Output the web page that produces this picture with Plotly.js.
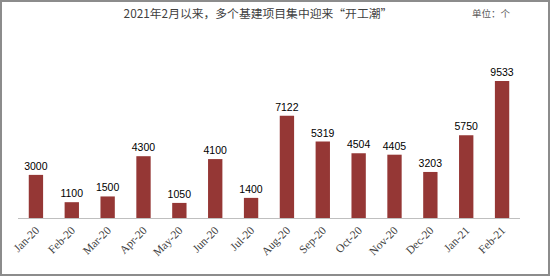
<!DOCTYPE html>
<html>
<head>
<meta charset="utf-8">
<script src="https://cdn.plot.ly/plotly-3.0.1.min.js"></script>
<style>
html,body{margin:0;padding:0;background:#fff;}
#wrap{position:relative;width:550px;height:276px;}
#chart{position:absolute;left:0;top:0;width:550px;height:276px;}
#frame{position:absolute;left:0;top:0;width:550px;height:276px;box-sizing:border-box;border:2px solid #8c8c8c;pointer-events:none;}
</style>
</head>
<body>
<div id="wrap"><div id="chart"></div><div id="frame"></div></div>
<script>
const months = ["Jan-20","Feb-20","Mar-20","Apr-20","May-20","Jun-20","Jul-20","Aug-20","Sep-20","Oct-20","Nov-20","Dec-20","Jan-21","Feb-21"];
const projects = [3000,1100,1500,4300,1050,4100,1400,7122,5319,4504,4405,3203,5750,9533];
const titleText = "2021年2月以来，多个基建项目集中迎来“开工潮”";
const unitText = "单位：个";

const trace = {
  type: "bar",
  x: months,
  y: projects,
  width: 0.4,
  marker: {color: "#953735"},
  text: projects.map(String),
  textposition: "outside",
  constraintext: "none",
  cliponaxis: false,
  textfont: {family: "Liberation Sans, Arial, sans-serif", size: 10.5, color: "#000"},
  hoverinfo: "none"
};

const layout = {
  width: 550,
  height: 276,
  margin: {l: 18, r: 30, t: 30, b: 58},
  paper_bgcolor: "#fff",
  plot_bgcolor: "#fff",
  showlegend: false,
  title: {
    text: titleText,
    x: 0.469, xanchor: "center",
    y: 0.95, yanchor: "middle",
    font: {family: "Noto Sans CJK SC, sans-serif", size: 11.8, color: "#404040"}
  },
  xaxis: {
    type: "category",
    tickangle: -45,
    showline: true,
    linecolor: "#bfbfbf",
    linewidth: 1,
    ticks: "",
    showgrid: false,
    tickfont: {family: "Liberation Serif, Times New Roman, serif", size: 11.5, color: "#404040"},
    automargin: false
  },
  yaxis: {
    range: [0, 13080],
    visible: false,
    showgrid: false,
    zeroline: false
  },
  annotations: [{
    text: unitText,
    xref: "paper", yref: "paper",
    x: 0.986, y: 1.09,
    xanchor: "right", yanchor: "middle",
    showarrow: false,
    font: {family: "Noto Sans CJK SC, sans-serif", size: 9.5, color: "#595959"}
  }]
};

Plotly.newPlot("chart", [trace], layout, {staticPlot: true});
</script>
</body>
</html>
